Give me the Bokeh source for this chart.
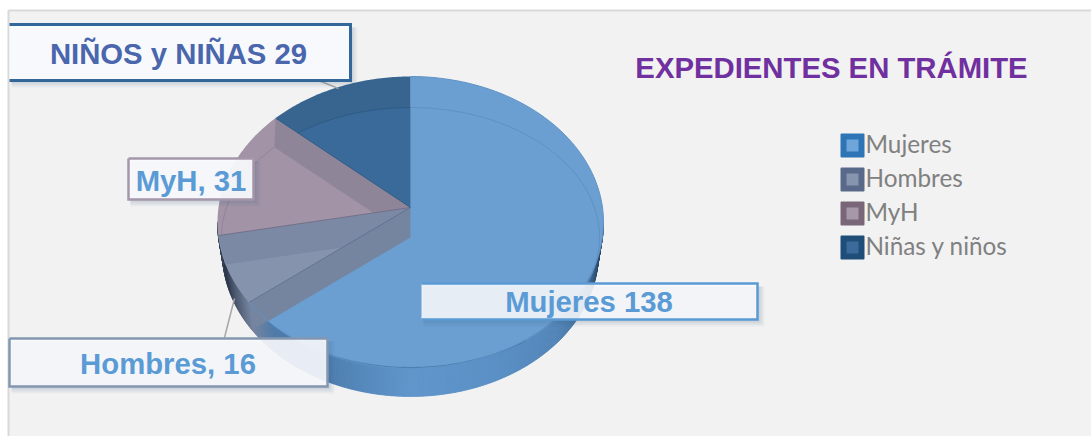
import math
from bokeh.plotting import figure
from bokeh.models import Range1d
from bokeh.core.properties import value
from bokeh.embed import file_html
from bokeh.resources import INLINE

# ---- data ----
categories = ["Mujeres", "Hombres", "MyH", "Niñas y niños"]
values = [138, 16, 31, 29]
label_texts = ["Mujeres 138", "Hombres, 16", "MyH, 31", "NIÑOS y NIÑAS 29"]
title_text = "EXPEDIENTES EN TRÁMITE"

# ---- style ----
top_cols = ["#6b9fd1", "#8593ad", "#a294a6", "#386590"]
wall_cols = ["#76859f", "#7b89a5", "#8f8599", "#386590"]
leg_outer = ["#2e75b6", "#58698a", "#7a6679", "#1f4e79"]
leg_inner = ["#6fa6da", "#8794ae", "#a698a8", "#3b6a9b"]

W, H = 1091, 436
p = figure(width=W, height=H, x_range=Range1d(0, W), y_range=Range1d(H, 0),
           x_axis_type=None, y_axis_type=None, toolbar_location=None,
           output_backend="svg", min_border=0, outline_line_color=None,
           background_fill_color="#ffffff", border_fill_color="#ffffff")
p.grid.visible = False

# panel
p.quad(left=[8], right=[1091], top=[10], bottom=[436], fill_color="#f2f2f2", line_color=None)
p.line([8, 8, 1091], [436, 10, 10], line_color="#d9d9d9", line_width=2)

# pie geometry
CX, CY, RX, RY = 410.0, 222.0, 193.0, 146.0   # top ellipse
AY = 207.0                                     # apex
FY, FRX, FRY = 237.0, 189.0, 130.0             # floor ellipse
DEPTH = 30.0
K = 0.756


def ray(a, ox, oy, ecx, ecy, rx, ry):
    """Intersection with an ellipse of a ray leaving (ox,oy) at clockwise angle a (deg)."""
    dx = math.sin(math.radians(a))
    dy = -math.cos(math.radians(a)) * K
    ux, uy = ox - ecx, oy - ecy
    A = dx * dx / rx ** 2 + dy * dy / ry ** 2
    B = 2 * (ux * dx / rx ** 2 + uy * dy / ry ** 2)
    C = ux * ux / rx ** 2 + uy * uy / ry ** 2 - 1
    s = (-B + math.sqrt(B * B - 4 * A * C)) / (2 * A)
    return ox + dx * s, oy + dy * s


def rim(a):
    return ray(a, CX, AY, CX, CY, RX, RY)


def floor(a):
    return ray(a, CX, FY, CX, FY, FRX, FRY)


def arc(fn, a0, a1, n=60):
    pts = [fn(a0 + (a1 - a0) * i / n) for i in range(n + 1)]
    return [q[0] for q in pts], [q[1] for q in pts]


total = sum(values)
edges = [0.0]
for v in values:
    edges.append(edges[-1] + v / total * 360)
a_muj, a_hom, a_myh = edges[1], edges[2], edges[3]


def hexrgb(c):
    return [int(c[i:i + 2], 16) for i in (1, 3, 5)]


# side wall shading
stops = [(90, "#22384f"), (100, "#2a4a6c"), (115, "#44729f"), (130, "#5486b8"),
         (150, "#5a8fc4"), (180, "#6096cb"), (205, "#4f7fb0"), (225, "#4f7aa8"),
         (236, "#76859f"), (243, "#5a6780"), (255, "#303b4e"), (268, "#3c4658"), (272, "#3c4658")]


def shade(t):
    for (t0, c0), (t1, c1) in zip(stops, stops[1:]):
        if t0 <= t <= t1:
            f = (t - t0) / (t1 - t0)
            a, b = hexrgb(c0), hexrgb(c1)
            return "#%02x%02x%02x" % tuple(round(a[i] + (b[i] - a[i]) * f) for i in range(3))
    return stops[-1][1]


xs, ys, cs = [], [], []
BRX, BRY = 188.0, 144.0
for t10 in range(90 * 2, 270 * 2):
    t0, t1 = t10 / 2, t10 / 2 + 0.8
    s0, c0 = math.sin(math.radians(t0)), math.cos(math.radians(t0))
    s1, c1 = math.sin(math.radians(t1)), math.cos(math.radians(t1))
    xs.append([CX + RX * s0, CX + RX * s1, CX + BRX * s1, CX + BRX * s0])
    ys.append([CY - RY * c0, CY - RY * c1, CY + DEPTH - BRY * c1, CY + DEPTH - BRY * c0])
    cs.append(shade(t0))
p.patches(xs, ys, fill_color=cs, line_color=cs, line_width=0.5)


def wedge(a0, a1, col):
    x, y = arc(rim, a0, a1)
    p.patch([CX] + x, [AY] + y, fill_color=col, line_color=None)


def wall(a, col, to_bottom=False):
    rx_, ry_ = rim(a)
    fx, fy = floor(a)
    xx = [CX, rx_]
    yy = [AY, ry_]
    if to_bottom:
        xx.append(rx_ + 3)
        yy.append(ry_ + 26)
    xx += [fx, CX]
    yy += [fy, FY]
    p.patch(xx, yy, fill_color=col, line_color=None)


# Niños
wedge(a_myh, 360, top_cols[3])
fx_, fy_ = arc(floor, a_myh, 360)
p.patch([CX] + fx_, [FY] + fy_, fill_color="#3a6a99", line_color=None)
p.line(fx_, fy_, line_color="#2f5a85", line_width=1)
# MyH
wedge(a_hom, a_myh, top_cols[2])
fx_, fy_ = arc(floor, a_hom, a_myh)
p.line(fx_, fy_, line_color="#8f8599", line_width=1)
wall(a_myh, wall_cols[2])
# Hombres
wedge(a_muj, a_hom, top_cols[1])
wall(a_hom, wall_cols[1])
# Mujeres
wedge(0, a_muj, top_cols[0])
fx_, fy_ = arc(floor, 0, 140)
p.line(fx_, fy_, line_color="#5f90c2", line_width=1)
fx_, fy_ = arc(floor, 140, a_muj)
p.line(fx_, fy_, line_color="#4d7fb0", line_width=1.2)
wall(a_muj, wall_cols[0], True)
# separators
for a, c in ((a_muj, "#62718e"), (a_hom, "#746f88"), (a_myh, "#2f5a85")):
    rx_, ry_ = rim(a)
    p.line([CX, rx_], [AY, ry_], line_color=c, line_width=1)
rx_, ry_ = rim(0)
p.line([CX, CX], [AY, ry_], line_color="#4f7fa8", line_width=0.5)
# rim outline
x_, y_ = arc(rim, 0, a_muj, 120)
p.line(x_, y_, line_color="#5f92c6", line_width=1)

# leader lines
p.line([318, 338], [80, 88], line_color="#a6a6a6", line_width=1.5)
p.line([224, 234], [337, 298], line_color="#a6a6a6", line_width=1.5)


def box(l, t, r, b, border, lw, alpha, closed=False):
    for i, sa in ((7, 0.05), (5, 0.07), (3, 0.09), (1, 0.12)):
        p.quad(left=[l + 2], right=[r + i], top=[t + 3], bottom=[b + i],
               fill_color="#3f5f85", fill_alpha=sa, line_color=None)
    p.quad(left=[l], right=[r], top=[t], bottom=[b], fill_color="#f9fafd", fill_alpha=alpha,
           line_color=None)
    xx, yy = [l, r, r, l], [t, t, b, b]
    if closed:
        xx.append(l)
        yy.append(t)
    p.line(xx, yy, line_color=border, line_width=lw, line_join="miter")


box(9, 24, 350, 80, "#336699", 3, 0.98)
box(9, 338, 327, 386, "#8497b0", 2.5, 0.9, True)
box(128, 158, 253, 199, "#a596a9", 2.5, 0.94, True)
box(421, 283, 757, 319, "#5b9bd5", 2.5, 0.88)

label_cols = ["#5b9bd5", "#5b9bd5", "#5b9bd5", "#4a66ac"]
label_x = [588.5, 167.5, 190.5, 178]
label_y = [301, 363, 180, 53]
p.text(label_x, label_y, text=label_texts, text_color=label_cols, text_align="center",
       text_baseline="middle", text_font=value("Liberation Sans"), text_font_style="bold",
       text_font_size="29.3px")

p.text([831], [67], text=[title_text], text_color="#7030a0", text_align="center",
       text_baseline="middle", text_font=value("Liberation Sans"), text_font_style="bold",
       text_font_size="29.3px")

# legend
for i, name in enumerate(categories):
    y0 = 133 + 34 * i
    p.quad(left=[841], right=[863], top=[y0 + 1], bottom=[y0 + 23], fill_color=leg_outer[i],
           line_color=leg_outer[i], line_width=2, line_join="round")
    p.quad(left=[846], right=[858], top=[y0 + 6], bottom=[y0 + 18], fill_color=leg_inner[i],
           line_color=None)
    p.text([865], [y0 + 10], text=[name], text_color="#808080", text_align="left",
           text_baseline="middle", text_font=value("Lato"), text_font_size="24.3px")

open("out.html", "w").write(file_html(p, INLINE))
